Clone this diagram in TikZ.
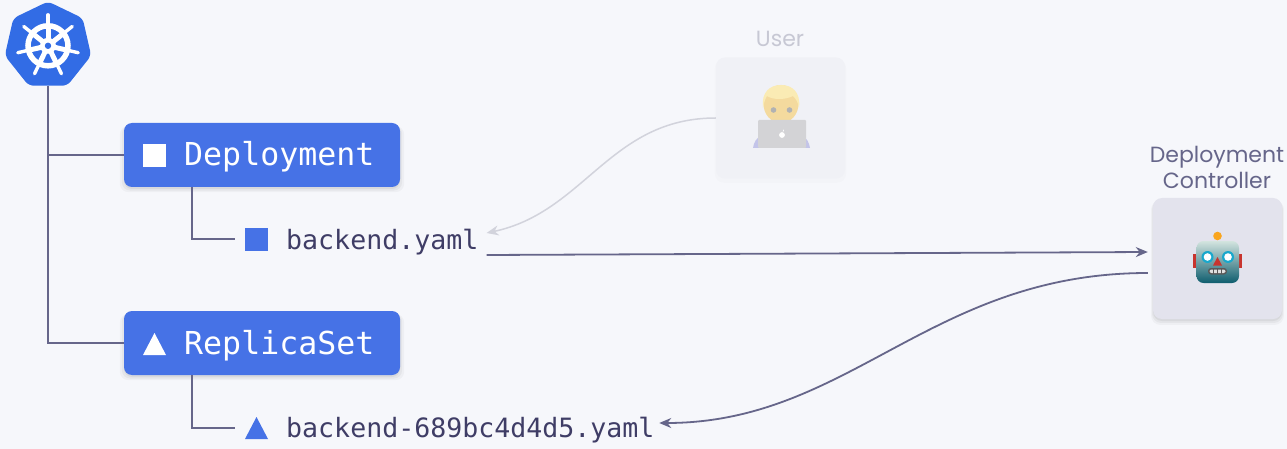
\documentclass[tikz,border=0pt]{standalone}
\usepackage{fontspec}
\setmainfont{Poppins}
\setmonofont{DejaVu Sans Mono}
\usetikzlibrary{arrows.meta, shapes.geometric, shadows}
\definecolor{pagebg}{HTML}{F6F7FB}
\definecolor{k8sblue}{HTML}{326CE5}
\definecolor{kindblue}{HTML}{4672E6}
\definecolor{inkline}{HTML}{66668A}
\definecolor{inktext}{HTML}{3F3D66}
\definecolor{fadeline}{HTML}{D2D3DC}
\definecolor{ctrlfill}{HTML}{E3E3ED}
\definecolor{userfill}{HTML}{F0F1F6}
\definecolor{robottop}{HTML}{D3E4DF}
\definecolor{robotmid}{HTML}{7DB0B6}
\definecolor{robotlow}{HTML}{0E5D6E}
\definecolor{robotear}{HTML}{C8342E}
\definecolor{roboteye}{HTML}{19A8CC}
\definecolor{robotcap}{HTML}{6A5A9A}
\definecolor{robotball}{HTML}{F9A51E}
\definecolor{userhair}{HTML}{FAEBB4}
\definecolor{userface}{HTML}{F4DA9E}
\definecolor{userbody}{HTML}{C3C4E9}
\definecolor{userlaptop}{HTML}{D3D3D6}
\tikzset{
softshadow/.style={
general shadow={fill=black, opacity=.03, shadow yshift=-4pt, shadow scale=1.03},
general shadow={fill=black, opacity=.04, shadow yshift=-3pt, shadow scale=1.015},
general shadow={fill=black, opacity=.05, shadow yshift=-2pt}},
kindbox/.style={rectangle, rounded corners=8pt, fill=kindblue, minimum width=276pt, minimum height=64pt, inner sep=0pt, softshadow},
kindlabel/.style={anchor=base west, inner sep=0pt, text=white, font=\ttfamily\fontsize{31.6}{36}\selectfont},
filelabel/.style={anchor=base west, inner sep=0pt, inner xsep=8pt, text=inktext, font=\ttfamily\fontsize{26.6}{32}\selectfont},
actorbox/.style={rectangle, rounded corners=9pt, minimum width=129pt, minimum height=121pt, inner sep=0pt},
actorlabel/.style={align=center, inner sep=0pt, font=\fontsize{22}{26}\selectfont},
tree/.style={draw=inkline, line width=1.7pt},
link/.style={line width=1.8pt, -{Stealth[length=12pt, width=10pt]}}
}
\begin{document}
\begin{tikzpicture}[x=1pt, y=-1pt]
\fill[pagebg] (0, 0) rectangle (1287, 449);
\useasboundingbox (0, 0) rectangle (1287, 449);

\node[regular polygon, regular polygon sides=7, minimum size=88.6pt, inner sep=0pt, fill=k8sblue, rounded corners=5pt] (k8s) at (48, 45.8) {};
\begin{scope}[shift={(k8s.center)}, white]
\draw[line width=5.5pt] (0, 0) circle (20);
\foreach \a in {0, ..., 6}{
\draw[line width=3.4pt, line cap=round] (0, 0) -- (-90 + \a*51.43:31);
\draw[line width=5pt] (0, 0) -- (-90 + \a*51.43:19);
}
\fill (0, 0) circle (8);
\fill[k8sblue] (0, 0) circle (3.2);
\end{scope}

\node[kindbox] (deployment) at (262, 155) {};
\node[kindbox] (replicaset) at (262, 343) {};
\coordinate (deploymentstub) at (235, 239);
\coordinate (replicastub) at (235, 428);
\coordinate (deploymentroot) at (192, 187);
\coordinate (replicaroot) at (192, 375);

\draw[tree] (k8s.south) |- (deployment.west);
\draw[tree] (k8s.south) |- (replicaset.west);
\draw[tree] (deploymentroot) |- (deploymentstub);
\draw[tree] (replicaroot) |- (replicastub);

\fill[white] (143, 144) rectangle (166, 167);
\fill[white] (154.5, 333) -- (166, 355) -- (143, 355) -- cycle;
\fill[kindblue] (245, 228) rectangle (268, 251);
\fill[kindblue] (256.5, 417) -- (268, 439) -- (245, 439) -- cycle;

\node[kindlabel] (deploymenttext) at (184, 166) {Deployment};
\node[kindlabel] (replicatext) at (184, 354) {ReplicaSet};
\node[filelabel] (backendyaml) at (278, 249) {backend.yaml};
\node[filelabel] (backendhash) at (278, 437) {backend-689bc4d4d5.yaml};

\node[actorbox, fill=userfill, general shadow={fill=black, opacity=.012, shadow yshift=-3pt, shadow scale=1.02}] (user) at (780.5, 118) {};
\node[actorlabel, text=fadeline!90!inkline] (usertext) at (780, 38.5) {User};
\node[actorbox, fill=ctrlfill, softshadow] (controller) at (1217.5, 258.5) {};
\node[actorlabel, text=inkline] (controllertext) at (1217, 167) {Deployment\\Controller};

\draw[link, draw=fadeline, line width=1.5pt] (user.west) .. controls (610, 118) and (585, 212) .. (backendyaml.east |- 0, 233);
\draw[link, draw=inkline] (backendyaml.east |- 0, 255) -- ([xshift=-5pt, yshift=6.5pt]controller.west);
\draw[link, draw=inkline] ([xshift=-5pt, yshift=-14.5pt]controller.west) .. controls (930, 273) and (850, 423) .. ([xshift=-3.5pt]backendhash.east |- 0, 423);

% person at the laptop
\fill[userbody] (753, 148) .. controls (755, 136) and (762, 133) .. (782, 133) .. controls (801, 133) and (808, 136) .. (810, 148) -- cycle;
\fill[userface] (781, 104) ellipse [x radius=17.5, y radius=19];
\fill[userhair] (763, 108) .. controls (761, 92) and (770, 85) .. (781, 85) .. controls (792, 85) and (801, 92) .. (799, 108) .. controls (798, 102) and (796, 99) .. (793, 96) .. controls (785, 100) and (773, 100) .. (767, 96) .. controls (765, 99) and (764, 103) .. (763, 108) -- cycle;
\fill[black!30] (773.5, 110) circle (2.8);
\fill[black!30] (789.5, 110) circle (2.8);
\fill[rounded corners=1pt, userlaptop] (758, 120) rectangle (806, 148);
\fill[white] (782, 135) circle (2.9);
\fill[white] (782.5, 131.5) -- (783.8, 129.5) -- (783.8, 131.5) -- cycle;

% robot face
\fill[robotear] (1193, 254) rectangle (1198, 268);
\fill[robotear] (1237, 254) rectangle (1242, 268);
\fill[robotcap] (1211, 241.5) arc[start angle=180, end angle=360, x radius=6.5, y radius=-4.5] -- cycle;
\fill[robotball] (1217.5, 236) circle (4.3);
\shade[top color=robottop, middle color=robotmid, bottom color=robotlow, rounded corners=7pt] (1196.5, 241) rectangle (1239, 283);
\foreach \ex in {1207.5, 1228}{
\fill[roboteye] (\ex, 257) circle (6);
\fill[white] (\ex, 257) circle (3.8);
}
\fill[robotear] (1217.5, 257) -- (1222, 265.5) -- (1213, 265.5) -- cycle;
\fill[rounded corners=3pt, black!65] (1208, 268) rectangle (1227, 274.5);
\fill[rounded corners=2pt, white!88!black] (1209.5, 269.5) rectangle (1225.5, 273);
\foreach \mx in {1213.5, 1217.5, 1221.5}
\draw[black!65, line width=.8pt] (\mx, 268.5) -- (\mx, 274);
\end{tikzpicture}
\end{document}
